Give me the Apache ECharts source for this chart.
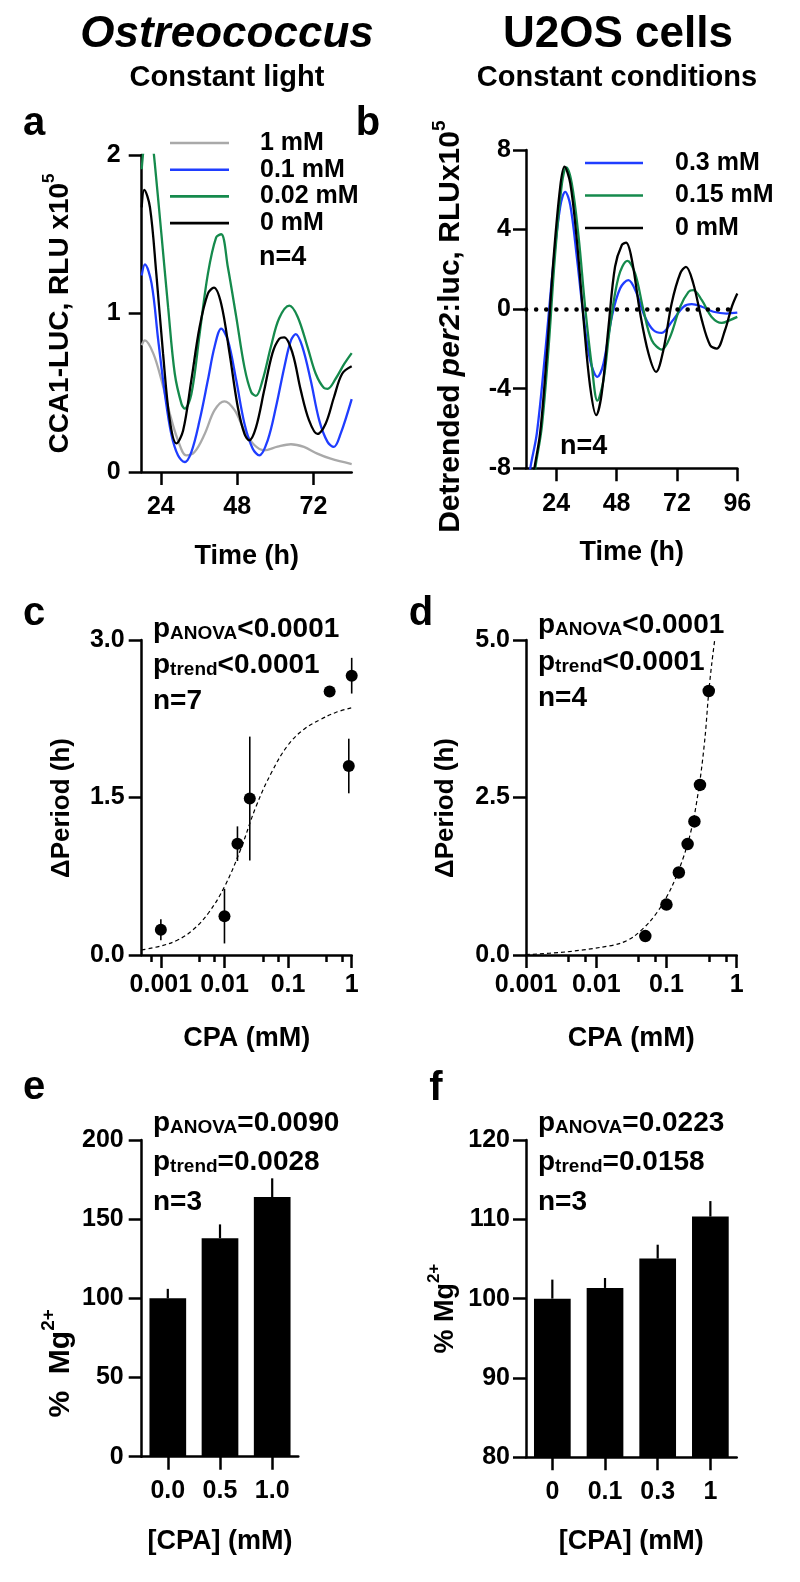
<!DOCTYPE html>
<html><head><meta charset="utf-8">
<script src="https://cdn.jsdelivr.net/npm/echarts@6/dist/echarts.min.js"></script>
<style>html,body{margin:0;padding:0;background:#fff}#c{width:800px;height:1582px}</style>
</head><body><div id="c"></div>
<script>
// ---------- DATA ----------
// Panel a: Ostreococcus CCA1-LUC (RLU x1e5) vs time (h)
const aGray = [[18,0.80],[19,0.83],[21.6,0.75],[24.2,0.58],[26.8,0.37],[29.4,0.20],[32,0.105],[34.6,0.126],[37.8,0.24],[40.9,0.39],[44,0.446],[47.2,0.39],[50.3,0.26],[53.4,0.17],[56.5,0.137],[60.7,0.16],[64.9,0.175],[69,0.158],[73.2,0.116],[77.4,0.084],[84,0.05]];
const aBlue = [[18,1.24],[19,1.31],[21.1,1.19],[23.2,0.83],[25.3,0.49],[27.3,0.24],[29.4,0.105],[31.5,0.063],[33.6,0.126],[36.2,0.326],[38.8,0.58],[40.9,0.79],[43,0.904],[45.1,0.83],[47.7,0.58],[50.3,0.305],[52.9,0.147],[55,0.105],[57.6,0.2],[60.2,0.41],[62.8,0.66],[64.9,0.83],[66.4,0.87],[68.5,0.79],[71.1,0.58],[73.8,0.326],[76.4,0.19],[78.4,0.158],[80.5,0.24],[84,0.46]];
const aGreen = [[18,1.91],[18.5,2.02],[19.5,2.16],[20.5,2.18],[21.5,2.06],[22.1,1.95],[24.2,1.50],[26.3,1.04],[28.4,0.62],[30.5,0.43],[31.5,0.40],[33.6,0.49],[36.2,0.87],[38.8,1.25],[41.4,1.48],[43,1.50],[45.1,1.29],[47.7,0.98],[50.3,0.66],[52.4,0.505],[53.9,0.48],[56,0.58],[58.6,0.79],[61.2,0.97],[64.4,1.05],[67,0.98],[70.1,0.79],[72.7,0.62],[75.3,0.53],[76.4,0.525],[79,0.59],[81.6,0.68],[84,0.75]];
const aBlack = [[18,1.67],[18.8,1.78],[20.6,1.67],[22.6,1.25],[24.7,0.75],[26.8,0.33],[28.9,0.18],[31,0.26],[33.6,0.58],[36.2,0.915],[38.8,1.125],[40.7,1.163],[43,1.06],[45.6,0.75],[48.2,0.41],[50.3,0.24],[51.8,0.20],[53.9,0.28],[56.5,0.515],[59.1,0.75],[61.2,0.84],[62.8,0.85],[65.4,0.75],[68,0.515],[70.6,0.326],[73.2,0.24],[75.8,0.305],[78.4,0.47],[81,0.62],[84,0.667]];
const aNames = ['1 mM','0.1 mM','0.02 mM','0 mM'];
const aTicks = [24,48,72];

// Panel b: U2OS detrended per2:luc (RLU x1e5) vs time (h)
const bBlue = [[13,-9],[13.7,-8],[16.3,-6.25],[19.6,-2.23],[22.9,2.3],[25.6,5.15],[27.6,5.9],[29.6,5.23],[32.2,2.63],[34.9,-0.39],[37.5,-2.57],[40.4,-3.4],[42.8,-2.73],[46.1,-0.39],[49.4,1.04],[52.7,1.46],[56,0.79],[59.3,-0.39],[62.7,-1.06],[66,-1.19],[69.9,-0.64],[74.6,0.12],[77.9,0.25],[81.9,0.12],[86.5,-0.13],[91.8,-0.22],[96,-0.18]];
const bGreen = [[15,-9],[15.7,-8],[18.3,-5.9],[21,-1.9],[23.6,2.8],[26.3,6.32],[28,7.13],[30.2,6.32],[32.9,3.64],[35.5,0.12],[38.2,-2.9],[40.4,-4.6],[42.8,-3.57],[45.4,-0.89],[48.8,1.63],[52.3,2.43],[55.4,1.79],[58.7,-0.05],[62,-1.56],[66,-2.03],[69.3,-1.39],[73.3,0.12],[76.6,0.87],[78.5,0.96],[81.9,0.45],[85.8,-0.39],[89.8,-0.69],[93.1,-0.55],[96,-0.39]];
const bBlack = [[14.5,-9.5],[15,-8.3],[17.6,-6.25],[20.3,-2.23],[22.9,2.47],[25.6,6.15],[27.3,7.16],[29.6,6.32],[32.2,3.47],[34.9,-0.55],[37.5,-3.9],[39.9,-5.33],[42.1,-4.24],[44.8,-0.89],[47.4,2.13],[50.1,3.22],[51.8,3.34],[54.1,2.47],[57.4,-0.22],[60.7,-2.23],[63.7,-3.15],[66.6,-2.06],[69.9,0.29],[73.3,1.79],[75.6,2.13],[78.5,1.29],[81.9,-0.55],[85.2,-1.81],[87.8,-1.98],[91.1,-1.06],[93.8,0.12],[96,0.79]];
const bNames = ['0.3 mM','0.15 mM','0 mM'];
const bTicks = [24,48,72,96];

// Panel c: Ostreococcus ΔPeriod vs CPA (mM)
const cConc = [0.001,0.01,0.016,0.025,0.45,0.9,1.0];
const cMean = [0.24,0.37,1.06,1.49,2.51,1.80,2.66];
const cErr  = [0.10,0.26,0.165,0.59,0,0.26,0.17];
const cFit  = [[0.0005,0.048],[0.001,0.086],[0.0018,0.14],[0.0032,0.24],[0.0056,0.40],[0.01,0.65],[0.0178,1.0],[0.0316,1.42],[0.0562,1.75],[0.1,2.0],[0.178,2.15],[0.316,2.24],[0.562,2.31],[1,2.355]];

// Panel d: U2OS ΔPeriod vs CPA (mM)
const dConc = [0.05,0.1,0.15,0.2,0.25,0.3,0.4];
const dMean = [0.30,0.80,1.31,1.76,2.12,2.70,4.19];
const dFit  = [[0.001,0.005],[0.0038,0.05],[0.0113,0.12],[0.022,0.185],[0.034,0.29],[0.058,0.53],[0.086,0.79],[0.119,1.08],[0.156,1.40],[0.195,1.72],[0.242,2.14],[0.301,2.78],[0.355,3.47],[0.398,4.15],[0.442,4.63],[0.49,5.03]];

const logMajor = [0.001,0.01,0.1,1];

// Panel e / f: % Mg2+
const eCats = ['0.0','0.5','1.0'];
const eMean = [100,138,164];
const eErr  = [6,8.7,11.8];
const fCats = ['0','0.1','0.3','1'];
const fMean = [100,101.35,105.05,110.35];
const fErr  = [2.4,1.25,1.75,1.95];

// ---------- STYLE ----------
const FONT = 'Liberation Sans, Arial, Helvetica, sans-serif';
const BLUE = '#1f3dff', GREEN = '#158a4c', GRAY = '#a9a9a9', BLACK = '#000';
const lbl = (size) => ({color:'#000', fontSize:size, fontWeight:'bold', fontFamily:FONT});
const axLine = {show:true, onZero:false, lineStyle:{color:'#000', width:2.5}};
const tick = (len, vals) => { const t = {show:true, length:len, lineStyle:{color:'#000', width:2.5}}; if (vals) t.customValues = vals; return t; };
const logFmt = v => String(+(+v).toPrecision(3));

function valX(grid, min, max, ticks, name, margin, gap) {
  return {gridIndex:grid, type:'value', min, max, position:'bottom',
    axisLine:axLine, axisTick:tick(13, ticks), splitLine:{show:false},
    axisLabel:Object.assign({customValues:ticks, margin}, lbl(25)),
    name, nameLocation:'middle', nameGap:gap, nameTextStyle:lbl(27)};
}
function logX(grid, min, name) {
  return {gridIndex:grid, type:'log', logBase:10, min, max:1, position:'bottom',
    axisLine:axLine, axisTick:tick(13, logMajor), splitLine:{show:false},
    minorTick:{show:true, splitNumber:3, length:7, lineStyle:{color:'#000', width:2.5}},
    minorSplitLine:{show:false},
    axisLabel:Object.assign({customValues:logMajor, margin:18, formatter:logFmt}, lbl(25)),
    name, nameLocation:'middle', nameGap:70, nameTextStyle:lbl(27)};
}
function catX(grid, cats) {
  return {gridIndex:grid, type:'category', data:cats, position:'bottom',
    axisLine:axLine, axisTick:Object.assign(tick(13), {alignWithLabel:true}),
    axisLabel:Object.assign({margin:22}, lbl(25)),
    name:'[CPA] (mM)', nameLocation:'middle', nameGap:71, nameTextStyle:lbl(27)};
}
function valY(grid, min, max, interval, margin, fmt, name, nameGap, nameStyle) {
  return {gridIndex:grid, type:'value', min, max, interval,
    axisLine:axLine, axisTick:tick(13), splitLine:{show:false},
    axisLabel:Object.assign({margin, formatter:fmt}, lbl(25)),
    name, nameLocation:'middle', nameGap, nameTextStyle:nameStyle};
}
const supRich = (size, padRight) => Object.assign(lbl(size), {
  padding: padRight ? [0, padRight, 0, 0] : 0,
  rich:{
    m:Object.assign(lbl(size), {lineHeight:size+6, verticalAlign:'bottom'}),
    i:Object.assign(lbl(size), {fontStyle:'italic', lineHeight:size+6, verticalAlign:'bottom'}),
    s:Object.assign(lbl(Math.round(size*0.62)), {lineHeight:Math.round(size*0.62), verticalAlign:'top'})
  }});

const lineS = (name, data, color, xi, yi) => ({name, type:'line', data, xAxisIndex:xi, yAxisIndex:yi,
  symbol:'none', smooth:0.35, clip:true, lineStyle:{color, width:2.3}, itemStyle:{color}, z:3});

function errBars(data, xi, yi, width) {
  return {type:'custom', xAxisIndex:xi, yAxisIndex:yi, data, z:2, silent:true,
    renderItem:(p, api) => {
      const x = api.value(0), m = api.value(1), e = api.value(2), lo = api.value(3);
      const a = api.coord([x, m + e]), b = api.coord([x, lo]);
      return {type:'line', shape:{x1:a[0], y1:a[1], x2:b[0], y2:b[1]}, style:{stroke:'#000', lineWidth:width}};
    }};
}

// ---------- TEXT ----------
function rtext(x, y, text, size, extra) {
  const st = {text, x:0, y:0, fill:'#000',
    font:(extra && extra.italic ? 'italic ' : '') + 'bold ' + size + 'px ' + FONT,
    align:(extra && extra.align) || 'left', verticalAlign:'middle',
    textAlign:(extra && extra.align) || 'left', textVerticalAlign:'middle'};
  if (extra && extra.rich) st.rich = extra.rich;
  return {type:'text', x, y, silent:true, style:st};
}
const annRich = {
  m:{fontSize:28, fontWeight:'bold', fontFamily:FONT, fill:'#000', lineHeight:31, verticalAlign:'bottom'},
  s:{fontSize:19, fontWeight:'bold', fontFamily:FONT, fill:'#000', lineHeight:18, verticalAlign:'bottom'}
};
const ann = (x, y, sub, rest) => rtext(x, y, '{m|p}{s|' + sub + '}{m|' + rest + '}', 28, {rich:annRich});

const graphics = [
  rtext(227, 35, 'Ostreococcus', 44, {italic:true, align:'center'}),
  rtext(227, 77.5, 'Constant light', 29, {align:'center'}),
  rtext(618, 35, 'U2OS cells', 44, {align:'center'}),
  rtext(617, 77.5, 'Constant conditions', 29, {align:'center'}),
  rtext(34, 124, 'a', 40, {align:'center'}),
  rtext(368, 124, 'b', 40, {align:'center'}),
  rtext(34, 614, 'c', 40, {align:'center'}),
  rtext(421, 614, 'd', 40, {align:'center'}),
  rtext(34, 1088, 'e', 40, {align:'center'}),
  rtext(436, 1089, 'f', 40, {align:'center'}),
  rtext(259, 258, 'n=4', 27),
  rtext(560, 447, 'n=4', 27),
  ann(153, 627.5, 'ANOVA', '<0.0001'), ann(153, 663.5, 'trend', '<0.0001'), rtext(153, 701, 'n=7', 28),
  ann(538, 624, 'ANOVA', '<0.0001'), ann(538, 661, 'trend', '<0.0001'), rtext(538, 698, 'n=4', 28),
  ann(153, 1122, 'ANOVA', '=0.0090'), ann(153, 1161, 'trend', '=0.0028'), rtext(153, 1202, 'n=3', 28),
  ann(538, 1122, 'ANOVA', '=0.0223'), ann(538, 1161, 'trend', '=0.0158'), rtext(538, 1202, 'n=3', 28)
];

// ---------- OPTION ----------
const option = {
  animation:false,
  backgroundColor:'#fff',
  grid:[
    {left:141.7, top:155, width:210, height:317},
    {left:526, top:150, width:211.3, height:318.3},
    {left:141.7, top:640, width:210, height:315},
    {left:526, top:640, width:210.7, height:315},
    {left:141.7, top:1140, width:156.6, height:316.7},
    {left:526, top:1140, width:210.7, height:317.3}
  ].map(g => Object.assign({containLabel:false, outerBoundsMode:'none'}, g)),
  xAxis:[
    valX(0, 18, 84, aTicks, 'Time (h)', 23, 71),
    valX(1, 12, 96, bTicks, 'Time (h)', 23, 71),
    logX(2, 0.0005, 'CPA (mM)'),
    logX(3, 0.001, 'CPA (mM)'),
    catX(4, eCats),
    catX(5, fCats)
  ],
  yAxis:[
    valY(0, 0, 2, 1, 21, v => String(v), '{m|CCA1-LUC, RLU x10}{s|5}', 67, supRich(28)),
    valY(1, -8, 8, 4, 15, v => String(v), '{m|Detrended }{i|per2}{m|:luc, RLUx10}{s|5}', 60, supRich(30, 35)),
    valY(2, 0, 3, 1.5, 17, v => v.toFixed(1), '\u0394Period (h)', 67, Object.assign(lbl(26), {padding:[0,21,0,0]})),
    valY(3, 0, 5, 2.5, 16, v => v.toFixed(1), '\u0394Period (h)', 67, Object.assign(lbl(26), {padding:[0,21,0,0]})),
    valY(4, 0, 200, 50, 18, v => String(v), '{m|%  Mg}{s|2+}', 66, supRich(30, 130)),
    valY(5, 80, 120, 10, 16, v => String(v), '{m|% Mg}{s|2+}', 67, supRich(27, 20))
  ],
  legend:[
    {data:aNames.map((n,i)=>'a'+i), formatter:n => aNames[+n.slice(1)], orient:'vertical', left:170, top:130.5, padding:0,
     itemWidth:59, itemHeight:2.6, itemGap:1.7, icon:'rect', selectedMode:false,
     textStyle:Object.assign(lbl(25), {lineHeight:25, padding:[0,0,0,26]})},
    {data:bNames.map((n,i)=>'b'+i), formatter:n => bNames[+n.slice(1)], orient:'vertical', left:585, top:150.5, padding:0,
     itemWidth:58, itemHeight:2.6, itemGap:7.5, icon:'rect', selectedMode:false,
     textStyle:Object.assign(lbl(25), {lineHeight:25, padding:[0,0,0,27]})}
  ],
  graphic:graphics,
  series:[
    lineS('a0', aGray, GRAY, 0, 0),
    lineS('a1', aBlue, BLUE, 0, 0),
    lineS('a2', aGreen, GREEN, 0, 0),
    lineS('a3', aBlack, BLACK, 0, 0),
    Object.assign(lineS('b0', bBlue, BLUE, 1, 1), {
      markLine:{silent:true, symbol:'none', label:{show:false}, animation:false,
        lineStyle:{color:'#000', width:4.5, type:[0.1,10], cap:'round'}, data:[{yAxis:0}]}}),
    lineS('b1', bGreen, GREEN, 1, 1),
    lineS('b2', bBlack, BLACK, 1, 1),
    // panel c
    {type:'line', data:cFit, xAxisIndex:2, yAxisIndex:2, symbol:'none', smooth:0.4,
     lineStyle:{color:'#000', width:1.2, type:[4,3]}, z:2},
    errBars(cConc.map((c,i)=>[c, cMean[i], cErr[i], cMean[i]-cErr[i]]), 2, 2, 1.6),
    {type:'scatter', data:cConc.map((c,i)=>[c, cMean[i]]), xAxisIndex:2, yAxisIndex:2,
     symbol:'circle', symbolSize:12, itemStyle:{color:'#000', opacity:1}, z:4},
    // panel d
    {type:'line', data:dFit, xAxisIndex:3, yAxisIndex:3, symbol:'none', smooth:0.3, clip:true,
     lineStyle:{color:'#000', width:1.2, type:[4,3]}, z:2},
    {type:'scatter', data:dConc.map((c,i)=>[c, dMean[i]]), xAxisIndex:3, yAxisIndex:3,
     symbol:'circle', symbolSize:12.5, itemStyle:{color:'#000', opacity:1}, z:4},
    // panel e
    {type:'bar', data:eMean, xAxisIndex:4, yAxisIndex:4, barWidth:36.7, itemStyle:{color:'#000'}, z:2},
    errBars(eMean.map((m,i)=>[i, m, eErr[i], m]), 4, 4, 2.2),
    // panel f
    {type:'bar', data:fMean, xAxisIndex:5, yAxisIndex:5, barWidth:36.7, itemStyle:{color:'#000'}, z:2},
    errBars(fMean.map((m,i)=>[i, m, fErr[i], m]), 5, 5, 2.2)
  ]
};
const chart = echarts.init(document.getElementById('c'), null, {renderer:'canvas'});
chart.setOption(option);
</script></body></html>
